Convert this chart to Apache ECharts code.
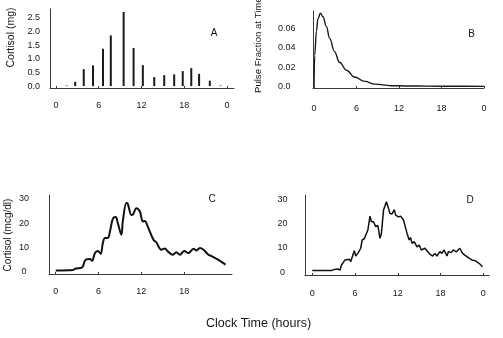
<!DOCTYPE html>
<html>
<head>
<meta charset="utf-8">
<script src="https://cdn.jsdelivr.net/npm/echarts@6/dist/echarts.min.js"></script>
<style>html,body{margin:0;padding:0;background:#fff;}#c{width:503px;height:338px;}</style>
</head>
<body>
<div id="c"></div>
<script>
// Panel A: secreted cortisol pulses
var aHours = [1.5, 2.7, 3.9, 5.2, 6.6, 7.7, 9.5, 10.9, 12.2, 13.8, 15.2, 16.6, 17.8, 19.0, 20.1, 21.6, 23.1];
var aCortisol = [0.02, 0.16, 0.62, 0.76, 1.37, 1.86, 2.72, 1.40, 0.77, 0.33, 0.40, 0.43, 0.55, 0.66, 0.45, 0.20, 0.02];
// Panel B: pulse fraction at time t
var bHours = [0, 0.1, 0.34, 0.56, 0.9, 1.27, 1.75, 2.2, 2.9, 3.6, 4.6, 5.7, 7.2, 8.6, 10.9, 13, 16, 20, 24];
var bFraction = [0, 0.032, 0.057, 0.070, 0.0757, 0.072, 0.062, 0.050, 0.036, 0.025, 0.0167, 0.0097, 0.0052, 0.0024, 0.0008, 0.0005, 0.0003, 0.0002, 0.0001];
// Panel C: smooth cortisol concentration
var cHours = [0, 2.4, 2.8, 3.6, 3.8, 4.2, 4.8, 5.1, 5.5, 5.9, 6.3, 6.6, 6.9, 7.3, 7.6, 8.0, 8.4, 8.7, 9.2, 9.4, 9.9, 10.1, 10.6, 10.8, 11.3, 11.8, 12.2, 12.5, 12.8, 13.7, 14.1, 14.8, 15.3, 15.7, 16.4, 16.9, 17.4, 18.0, 18.6, 19.3, 19.7, 20.2, 20.7, 21.4, 21.8, 22.8, 23.8];
var cCortisol = [0.4, 0.6, 1.2, 1.5, 2.0, 4.8, 5.1, 4.4, 7.6, 8.5, 7.3, 11.7, 13.8, 13.8, 16.5, 21.8, 22.5, 20, 15.2, 20.7, 28.3, 28, 23.4, 23.5, 26.2, 24.8, 20.7, 20.9, 19.3, 13.1, 12, 9, 9.5, 8.3, 6.9, 7.9, 6.9, 8.5, 7.6, 9.4, 8.7, 9.7, 9, 6.9, 6.4, 4.8, 2.8];
// Panel D: jagged cortisol concentration
var dHours = [0, 2.7, 3.1, 3.6, 3.9, 4.1, 4.6, 4.8, 5.2, 5.4, 5.7, 5.9, 6.1, 6.4, 6.6, 6.8, 7.0, 7.3, 7.5, 7.8, 8.1, 8.3, 8.6, 8.9, 9.2, 9.5, 9.7, 10.0, 10.2, 10.4, 10.7, 10.9, 11.2, 11.5, 11.7, 12.1, 12.4, 12.8, 13.0, 13.3, 13.6, 13.8, 14.0, 14.3, 14.7, 15.0, 15.3, 15.8, 16.1, 16.5, 16.9, 17.2, 17.5, 17.9, 18.2, 18.5, 18.9, 19.1, 19.5, 19.8, 20.2, 20.7, 21.1, 21.4, 21.6, 22.0, 22.4, 22.9, 23.4, 23.9];
var dCortisol = [0.7, 0.7, 1.2, 1.4, 0.9, 3, 5.1, 4.8, 5.4, 4.4, 7.1, 8.9, 6.7, 7.8, 7.2, 9.9, 13.3, 13.8, 13.3, 17.4, 23.1, 20.8, 20.8, 18.8, 19.3, 14, 16, 25.6, 26.3, 29, 26.3, 24.2, 24, 25.8, 23.5, 22.8, 23.1, 21.5, 21, 16, 13.3, 14.3, 11.9, 12.6, 10.5, 11.2, 9.2, 9.9, 8.9, 7.5, 6.7, 7.8, 6.7, 8.5, 7.8, 9.2, 6.7, 8.5, 8.1, 9.2, 8.4, 9.9, 7.8, 7.1, 7.5, 5.8, 5.1, 4.7, 3.7, 2.3];

var xTicksFull = [0, 6, 12, 18, 24];
var xTicksC = [0, 6, 12, 18];
var aYTicks = [0, 0.5, 1, 1.5, 2, 2.5];
var bYTicks = [0, 0.02, 0.04, 0.06];
var cdYTicks = [0, 10, 20, 30];

function pairs(xs, ys) { return xs.map(function (x, i) { return [x, ys[i]]; }); }

var FONT = '"Liberation Sans", Arial, Helvetica, sans-serif';
var TXT = '#161616';
var AX = '#3a3a3a';

function xAxisCfg(gi, min, max, ticks, margin) {
  return {
    type: 'value', gridIndex: gi, min: min, max: max,
    axisLine: { show: true, onZero: false, lineStyle: { color: AX, width: 1 } },
    axisTick: { show: true, inside: true, length: 2, customValues: ticks, lineStyle: { color: AX } },
    axisLabel: { customValues: ticks, margin: margin, fontSize: 9, fontFamily: FONT, color: TXT,
      formatter: function (v) { return v === 24 ? '0' : String(v); } },
    splitLine: { show: false }
  };
}
function yAxisCfg(gi, min, max, ticks, fmt, align, margin) {
  return {
    type: 'value', gridIndex: gi, min: min, max: max,
    axisLine: { show: true, onZero: false, lineStyle: { color: AX, width: 1 } },
    axisTick: { show: false },
    axisLabel: { customValues: ticks, margin: margin, align: align, fontSize: 9, fontFamily: FONT, color: TXT, formatter: fmt },
    splitLine: { show: false }
  };
}

var option = {
  backgroundColor: '#fff',
  animation: false,
  grid: [
    { left: 50, top: 9, width: 184, height: 79 },
    { left: 313, top: 11, width: 171, height: 77 },
    { left: 49, top: 195, width: 183, height: 79 },
    { left: 305, top: 195, width: 184, height: 80 }
  ],
  xAxis: [
    xAxisCfg(0, -0.84, 25, xTicksFull, 13),
    xAxisCfg(1, -0.14, 24, xTicksFull, 16),
    xAxisCfg(2, -0.94, 24.7, xTicksC, 13),
    xAxisCfg(3, -1.02, 24.8, xTicksFull, 14)
  ],
  yAxis: [
    yAxisCfg(0, -0.07, 2.83, aYTicks, function (v) { return v.toFixed(1); }, 'right', 10),
    yAxisCfg(1, -0.0016, 0.078, bYTicks, function (v) { return v === 0 ? '0.0' : v.toFixed(2); }, 'left', 35),
    yAxisCfg(2, -1.07, 31.65, cdYTicks, function (v) { return String(v); }, 'center', 25),
    yAxisCfg(3, -1.1, 31.8, cdYTicks, function (v) { return String(v); }, 'center', 22.5)
  ],
  series: [
    { type: 'bar', xAxisIndex: 0, yAxisIndex: 0, barWidth: 2, data: pairs(aHours, aCortisol),
      itemStyle: { color: '#1a1a1a' } },
    { type: 'line', xAxisIndex: 1, yAxisIndex: 1, data: pairs(bHours, bFraction), smooth: 0.4, smoothMonotone: 'x',
      showSymbol: false, lineStyle: { color: '#1a1a1a', width: 1.4 } },
    { type: 'line', xAxisIndex: 2, yAxisIndex: 2, data: pairs(cHours, cCortisol), smooth: 0.35,
      showSymbol: false, lineStyle: { color: '#111', width: 2 } },
    { type: 'line', xAxisIndex: 3, yAxisIndex: 3, data: pairs(dHours, dCortisol),
      showSymbol: false, lineStyle: { color: '#111', width: 1.5 } }
  ],
  graphic: [
    { type: 'text', x: 11, y: 37.5, rotation: Math.PI / 2,
      style: { text: 'Cortisol (mg)', fontSize: 10.5, fontFamily: FONT, fill: TXT, align: 'center', verticalAlign: 'middle' } },
    { type: 'text', x: 258, y: 93, rotation: Math.PI / 2,
      style: { text: 'Pulse Fraction at Time t', fontSize: 9.6, fontFamily: FONT, fill: TXT, align: 'left', verticalAlign: 'middle' } },
    { type: 'text', x: 8, y: 235, rotation: Math.PI / 2,
      style: { text: 'Cortisol (mcg/dl)', fontSize: 10, fontFamily: FONT, fill: TXT, align: 'center', verticalAlign: 'middle' } },
    { type: 'text', x: 214, y: 33, style: { text: 'A', fontSize: 10, fontFamily: FONT, fill: TXT, align: 'center', verticalAlign: 'middle' } },
    { type: 'text', x: 471.7, y: 34.3, style: { text: 'B', fontSize: 10, fontFamily: FONT, fill: TXT, align: 'center', verticalAlign: 'middle' } },
    { type: 'text', x: 212, y: 199, style: { text: 'C', fontSize: 10, fontFamily: FONT, fill: TXT, align: 'center', verticalAlign: 'middle' } },
    { type: 'text', x: 470, y: 200.7, style: { text: 'D', fontSize: 10, fontFamily: FONT, fill: TXT, align: 'center', verticalAlign: 'middle' } },
    { type: 'text', x: 258.5, y: 324, style: { text: 'Clock Time (hours)', fontSize: 12.5, fontFamily: FONT, fill: TXT, align: 'center', verticalAlign: 'middle' } }
  ]
};
var chart = echarts.init(document.getElementById('c'), null, { renderer: 'canvas' });
chart.setOption(option);
</script>
</body>
</html>
